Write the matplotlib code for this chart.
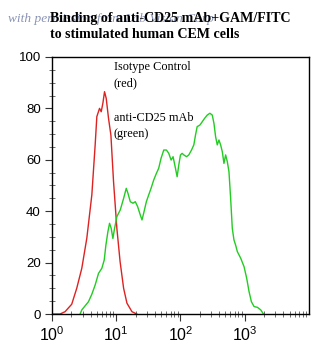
import numpy as np
import matplotlib
matplotlib.use("Agg")
import matplotlib.pyplot as plt
from matplotlib.ticker import LogLocator, MultipleLocator, NullFormatter

# ================= DATA =================
# fluorescence position in decades (log10) and counts
red_log = [0.0, 0.125, 0.203, 0.307, 0.385, 0.464, 0.542, 0.62, 0.672, 0.698, 0.74, 0.766,
           0.792, 0.818, 0.844, 0.88, 0.917, 0.958, 1.01, 1.06, 1.115, 1.167, 1.245, 1.32]
red_counts = [0, 0, 0.9, 3.8, 10, 17.8, 29.5, 46.3, 65.8, 76.8, 80, 78.7,
              82, 86.5, 83.9, 76.1, 69.6, 51.5, 33.3, 20.4, 10, 4.2, 0.9, 0]

green_log = [0.438, 0.464, 0.516, 0.568, 0.62, 0.672, 0.724, 0.776, 0.813, 0.839, 0.87, 0.896,
             0.922, 0.948, 0.974, 1.01, 1.063, 1.115, 1.156, 1.182, 1.219, 1.26, 1.297, 1.333,
             1.375, 1.401, 1.427, 1.469, 1.505, 1.542, 1.583, 1.625, 1.661, 1.698, 1.74, 1.781,
             1.818, 1.854, 1.885, 1.922, 1.948, 1.974, 2.0, 2.026, 2.052, 2.094, 2.13, 2.172,
             2.208, 2.234, 2.26, 2.302, 2.339, 2.375, 2.417, 2.458, 2.495, 2.521, 2.547, 2.573,
             2.599, 2.625, 2.651, 2.677, 2.703, 2.729, 2.755, 2.781, 2.807, 2.833, 2.859, 2.885,
             2.938, 2.99, 3.031, 3.068, 3.104, 3.146, 3.198, 3.25, 3.292]
green_counts = [0, 1.6, 3.2, 4.8, 7.7, 11.3, 15.8, 17.8, 21.0, 26.8, 32.0, 35.3,
                33.3, 29.4, 33.3, 37.9, 40.5, 45.0, 48.9, 47.0, 43.7, 43.1, 43.7, 41.8,
                38.5, 36.6, 39.2, 43.7, 46.3, 48.9, 52.1, 54.7, 56.7, 60.6, 63.8, 63.8,
                62.5, 59.9, 61.2, 56.7, 53.4, 58.0, 61.9, 62.5, 61.9, 61.2, 61.9, 63.8,
                65.8, 69.6, 72.9, 73.5, 74.8, 76.1, 77.4, 78.1, 77.4, 74.2, 69.0, 65.8,
                67.7, 65.8, 63.2, 58.6, 61.9, 59.3, 55.4, 45.0, 33.3, 28.8, 26.8, 24.3,
                21.7, 18.4, 13.9, 8.7, 4.8, 2.9, 2.6, 1.6, 0]

title_text = "Binding of anti-CD25 mAb+GAM/FITC\nto stimulated human CEM cells"
credit_text = "with permission from Lab Vision Corp"
label_red = "Isotype Control\n(red)"
label_green = "anti-CD25 mAb\n(green)"

# ================= FIGURE =================
fig = plt.figure(figsize=(3.24, 3.59), dpi=100)
ax = fig.add_axes([0.1605, 0.1253, 0.793, 0.716])

ax.plot(10 ** np.array(red_log), red_counts, color="#dd2222", lw=1.0)
ax.plot(10 ** np.array(green_log), green_counts, color="#22cc22", lw=1.0)

ax.set_xscale("log")
ax.set_xlim(1, 1e4)
ax.set_ylim(0, 100)

ax.yaxis.set_major_locator(MultipleLocator(20))
ax.yaxis.set_minor_locator(MultipleLocator(5))
ax.xaxis.set_minor_locator(LogLocator(base=10, subs=np.arange(2, 10), numticks=10))
ax.xaxis.set_minor_formatter(NullFormatter())
ax.set_xticks([1, 10, 100, 1000])
ax.set_xticklabels([r"$\mathregular{10^0}$", r"$\mathregular{10^1}$",
                    r"$\mathregular{10^2}$", r"$\mathregular{10^3}$"],
                   fontfamily="Liberation Sans", fontsize=11.5)
ax.set_yticks([0, 20, 40, 60, 80, 100])
ax.set_yticklabels(["0", "20", "40", "60", "80", "100"], fontfamily="Liberation Sans", fontsize=9.5)

ax.tick_params(which="major", direction="out", length=5, width=0.8, color="#333333", pad=3)
ax.tick_params(which="minor", direction="inout", length=4, width=0.6, color="#555555")
for s in ax.spines.values():
    s.set_linewidth(1.0)

# ================= TEXT =================
ax.text(0.24, 0.985, label_red, transform=ax.transAxes, va="top", ha="left",
        fontfamily="Liberation Serif", fontsize=8.8, linespacing=1.45)
ax.text(0.24, 0.785, label_green, transform=ax.transAxes, va="top", ha="left",
        fontfamily="Liberation Serif", fontsize=8.8, linespacing=1.45)

# watermark sits underneath the title, as in the scan
fig.text(8 / 324, 1 - 19 / 359, credit_text, va="center", ha="left",
         fontfamily="Liberation Serif", fontstyle="italic", fontsize=9.6,
         color="#4a5a8a", alpha=0.65, zorder=1)
fig.text(50 / 324, 1 - 12 / 359, title_text, va="top", ha="left",
         fontfamily="Liberation Serif", fontweight="bold", fontsize=10.1, linespacing=1.3,
         zorder=2)

fig.savefig("out.png", dpi=100)
